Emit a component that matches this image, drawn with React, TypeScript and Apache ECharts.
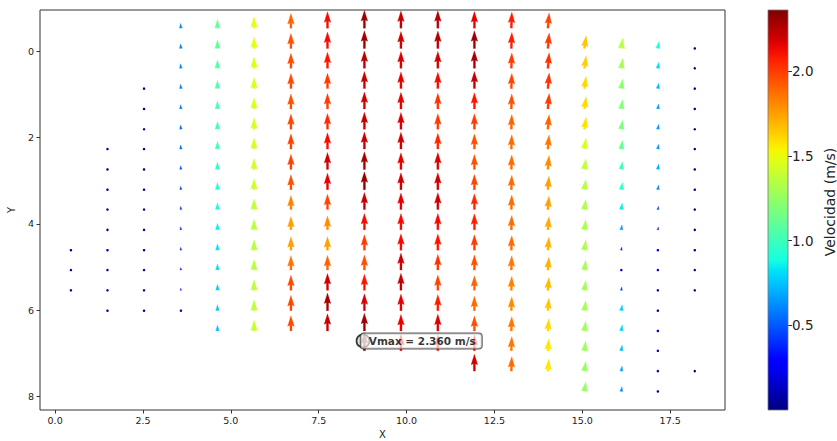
import React, { useEffect, useRef } from "react";
import * as echarts from "echarts";

// ---- data ----
const xCols = [0.45, 1.49, 2.53, 3.58, 4.62, 5.66, 6.71, 7.75, 8.80, 9.84, 10.89, 11.93, 12.98, 14.02, 15.06, 16.11, 17.15, 18.20];
// grid rows (index 0 = top row)
const yRows = [-0.53, -0.06, 0.40, 0.87, 1.34, 1.81, 2.27, 2.74, 3.21, 3.67, 4.14, 4.61, 5.07, 5.54, 6.01, 6.48, 6.94, 7.41, 7.88];
// first row index of each column
const colStart = [11, 6, 3, 0, 0, 0, 0, 0, 0, 0, 0, 0, 0, 0, 1, 1, 1, 1];
// arrow tilt per column (degrees, + = tip leans right)
const colAngle = [0, 0, 0, -6, 0, 0, 0, 0, 0, 0, 0, 0, 2, 5, 8, 8, 10, 0];

const col01 = [0.08, 0.08, 0.08];
const col02 = [0.09, 0.08, 0.08, 0.08, 0.08, 0.08, 0.08, 0.08, 0.08];
const col03 = [0.09, 0.09, 0.09, 0.04, 0.04, 0.08, 0.08, 0.08, 0.08, 0.08, 0.08, 0.08];
const col04 = [0.62, 0.6, 0.6, 0.58, 0.56, 0.54, 0.52, 0.48, 0.45, 0.42, 0.4, 0.37, 0.33, 0.28, 0.2];
const col05 = [1.12, 1.1, 1.07, 1.05, 1.03, 1.0, 0.98, 0.95, 0.92, 0.88, 0.85, 0.82, 0.8, 0.78, 0.76, 0.74];
const col06 = [1.48, 1.48, 1.47, 1.46, 1.46, 1.45, 1.44, 1.43, 1.42, 1.38, 1.36, 1.35, 1.36, 1.37, 1.38, 1.4];
const col07 = [1.9, 1.95, 1.96, 1.96, 1.95, 1.97, 1.98, 1.98, 1.95, 1.82, 1.75, 1.75, 1.86, 1.96, 1.97, 1.96];
const col08 = [2.12, 2.12, 2.1, 2.0, 2.0, 2.04, 2.12, 2.2, 2.15, 1.98, 1.8, 1.75, 1.9, 2.2, 2.28, 2.22];
const col09 = [2.3, 2.3, 2.25, 2.22, 2.2, 2.22, 2.22, 2.28, 2.32, 2.22, 2.12, 2.0, 1.95, 2.1, 2.18, 2.3, 2.36];
const col10 = [2.22, 2.2, 2.18, 2.15, 2.15, 2.18, 2.2, 2.15, 2.2, 2.15, 2.12, 2.12, 2.2, 2.22, 2.15, 2.15, 2.12];
const col11 = [2.25, 2.25, 2.2, 2.12, 2.02, 2.0, 2.05, 2.18, 2.2, 2.2, 2.12, 2.1, 2.02, 1.98, 2.08, 2.18, 2.1];
const col12 = [2.15, 2.3, 2.28, 2.22, 2.1, 2.0, 1.95, 1.95, 1.98, 2.05, 2.08, 2.0, 1.95, 1.9, 1.88, 1.95, 2.08, 2.2];
const col13 = [2.08, 2.08, 2.0, 1.98, 1.95, 1.9, 1.88, 1.88, 1.88, 1.88, 1.88, 1.88, 1.85, 1.82, 1.8, 1.85, 1.85, 1.88];
const col14 = [1.98, 2.0, 2.02, 2.02, 2.0, 1.9, 1.85, 1.8, 1.75, 1.75, 1.72, 1.7, 1.7, 1.68, 1.65, 1.6, 1.57, 1.57];
const col15 = [1.65, 1.63, 1.6, 1.6, 1.58, 1.45, 1.38, 1.35, 1.33, 1.32, 1.32, 1.3, 1.3, 1.3, 1.28, 1.27, 1.26, 1.25];
const col16 = [1.35, 1.3, 1.22, 1.2, 1.18, 1.12, 1.0, 0.95, 0.85, 0.65, 0.4, 0.12, 0.45, 0.78, 0.8, 0.75, 0.68, 0.62];
const col17 = [0.9, 0.8, 0.72, 0.65, 0.65, 0.65, 0.7, 0.62, 0.45, 0.38, 0.2, 0.1, 0.08, 0.08, 0.08, 0.08, 0.08, 0.08];
const col18 = [0.07, 0.07, 0.07, 0.07, 0.07, 0.07, 0.07, 0.07, 0.07, 0.07, 0.07, 0.07, 0.07, null, null, null, 0.07];
const columns = [col01, col02, col03, col04, col05, col06, col07, col08, col09, col10, col11, col12, col13, col14, col15, col16, col17, col18];

const vmax = 2.36;
const vmaxX = 8.76;
const vmaxY = 6.71;
const xTicks = [0, 2.5, 5, 7.5, 10, 12.5, 15, 17.5];
const yTicks = [0, 2, 4, 6, 8];
const cbTicks = [0.5, 1.0, 1.5, 2.0];

// ---- styling ----
const PX_PER_MS = 7.7;
const W = 2.1;
const HW = 6.6;
const HL = 10.5;
const HAL = 9.5;

const jetSeg = {
  r: [[0, 0], [0.35, 0], [0.66, 1], [0.89, 1], [1, 0.5]],
  g: [[0, 0], [0.125, 0], [0.375, 1], [0.64, 1], [0.91, 0], [1, 0]],
  b: [[0, 0.5], [0.11, 1], [0.34, 1], [0.65, 0], [1, 0]],
};
function interp(seg: number[][], t: number) {
  for (let i = 1; i < seg.length; i++) {
    if (t <= seg[i][0]) {
      const [x0, y0] = seg[i - 1];
      const [x1, y1] = seg[i];
      return y0 + ((t - x0) / (x1 - x0)) * (y1 - y0);
    }
  }
  return seg[seg.length - 1][1];
}
function jet(t: number) {
  t = Math.max(0, Math.min(1, t));
  const r = Math.round(interp(jetSeg.r, t) * 255);
  const g = Math.round(interp(jetSeg.g, t) * 255);
  const b = Math.round(interp(jetSeg.b, t) * 255);
  return `rgb(${r},${g},${b})`;
}

const FONT = "DejaVu Sans";

export default function App() {
  const ref = useRef<HTMLDivElement>(null);
  useEffect(() => {
    if (!ref.current) return;
    const chart = echarts.init(ref.current, null, { renderer: "svg" });

    const arrows: number[][] = [];
    columns.forEach((col, ci) => {
      col.forEach((s, i) => {
        if (s === null || s === undefined) return;
        arrows.push([xCols[ci], yRows[colStart[ci] + i], s as number, colAngle[ci]]);
      });
    });

    const stops = [];
    for (let i = 0; i <= 40; i++) stops.push({ offset: i / 40, color: jet(i / 40) });

    const option: any = {
      animation: false,
      backgroundColor: "#fff",
      textStyle: { fontFamily: FONT },
      grid: [
        { left: 40, top: 10, width: 685, height: 400, show: true, borderColor: "#333", borderWidth: 1, backgroundColor: "#fff", outerBoundsMode: "none" },
        { left: 768, top: 10, width: 20, height: 400, show: false, outerBoundsMode: "none" },
      ],
      xAxis: [
        {
          gridIndex: 0, type: "value", min: -0.43, max: 19.06,
          name: "X", nameLocation: "middle", nameGap: 19,
          nameTextStyle: { fontSize: 10, color: "#222", fontFamily: FONT },
          axisLine: { show: false, onZero: false }, splitLine: { show: false },
          axisTick: { show: true, length: 3.5, customValues: xTicks, lineStyle: { color: "#333" } },
          axisLabel: { customValues: xTicks, formatter: (v: number) => v.toFixed(1), fontSize: 9.5, color: "#222", margin: 5, fontFamily: FONT },
        },
        { gridIndex: 1, type: "value", min: 0, max: 1, show: false },
      ],
      yAxis: [
        {
          gridIndex: 0, type: "value", inverse: true, min: -0.95, max: 8.31,
          name: "Y", nameLocation: "middle", nameGap: 24,
          nameTextStyle: { fontSize: 10, color: "#222", fontFamily: FONT },
          axisLine: { show: false, onZero: false }, splitLine: { show: false },
          axisTick: { show: true, length: 3.5, customValues: yTicks, lineStyle: { color: "#333" } },
          axisLabel: { customValues: yTicks, formatter: (v: number) => String(v), fontSize: 9.5, color: "#222", margin: 6, fontFamily: FONT },
        },
        {
          gridIndex: 1, type: "value", min: 0, max: vmax, position: "right",
          axisLine: { show: false, onZero: false }, splitLine: { show: false },
          axisTick: { show: true, length: 4, customValues: cbTicks, lineStyle: { color: "#333" } },
          axisLabel: { customValues: cbTicks, formatter: (v: number) => v.toFixed(1), fontSize: 13.5, color: "#222", margin: 4, fontFamily: FONT },
        },
      ],
      series: [
        {
          type: "custom",
          xAxisIndex: 0, yAxisIndex: 0,
          clip: true,
          dimensions: ["x", "y", "s", "a"],
          encode: { x: 0, y: 1 },
          data: arrows,
          renderItem: (params: any, api: any) => {
            const x = api.value(0), y = api.value(1), s = api.value(2), ang = api.value(3);
            const p = api.coord([x, y]);
            const L = s * PX_PER_MS;
            const color = jet(s / vmax);
            if (L < W) {
              return { type: "circle", shape: { cx: p[0], cy: p[1], r: 1.25 }, style: { fill: color } };
            }
            const len = Math.max(L, HL);
            const sc = L >= HL ? 1 : L / HL;
            const a = (ang * Math.PI) / 180;
            const dir = [Math.sin(a), -Math.cos(a)];
            const perp = [Math.cos(a), Math.sin(a)];
            const local = [
              [-W / 2, 0], [-W / 2, len - HAL], [-HW / 2, len - HL], [0, len],
              [HW / 2, len - HL], [W / 2, len - HAL], [W / 2, 0],
            ];
            const pts = local.map(([v, u]) => [
              p[0] + (v * perp[0] + u * dir[0]) * sc,
              p[1] + (v * perp[1] + u * dir[1]) * sc,
            ]);
            return { type: "polygon", shape: { points: pts }, style: { fill: color, stroke: color, lineWidth: 0.3 } };
          },
          silent: true,
          z: 2,
        },
        {
          type: "scatter",
          xAxisIndex: 0, yAxisIndex: 0,
          data: [[vmaxX, vmaxY]],
          symbol: "circle",
          symbolSize: 13,
          itemStyle: { color: "rgba(190,190,190,0.6)", borderColor: "#000", borderWidth: 1.6 },
          label: {
            show: true,
            position: "right",
            distance: -9.5,
            formatter: () => `Vmax = ${vmax.toFixed(3)} m/s`,
            fontFamily: FONT, fontSize: 10.5, fontWeight: "bold", color: "#000",
            backgroundColor: "rgba(255,255,255,0.82)",
            borderColor: "#333", borderWidth: 1, borderRadius: 3,
            padding: [2, 6, 2, 8],
          },
          silent: true,
          z: 5,
        },
        {
          type: "custom",
          xAxisIndex: 1, yAxisIndex: 1,
          data: [[1, vmax]],
          renderItem: (params: any, api: any) => {
            const p0 = api.coord([0, 0]);
            const p1 = api.coord([api.value(0), api.value(1)]);
            return {
              type: "rect",
              shape: { x: p0[0], y: p1[1], width: p1[0] - p0[0], height: p0[1] - p1[1] },
              style: {
                fill: new echarts.graphic.LinearGradient(0, 1, 0, 0, stops),
                stroke: "#777", lineWidth: 0.8,
              },
            };
          },
          silent: true,
        },
      ],
      graphic: [
        {
          type: "text",
          x: 830, y: 202,
          rotation: Math.PI / 2,
          style: { text: "Velocidad (m/s)", fontSize: 14, fontFamily: FONT, fill: "#222", textAlign: "center", textVerticalAlign: "middle" },
        },
      ],
    };
    chart.setOption(option);
    return () => chart.dispose();
  }, []);
  return <div ref={ref} style={{ position: "fixed", left: 0, top: 0, width: 837, height: 441 }} />;
}
